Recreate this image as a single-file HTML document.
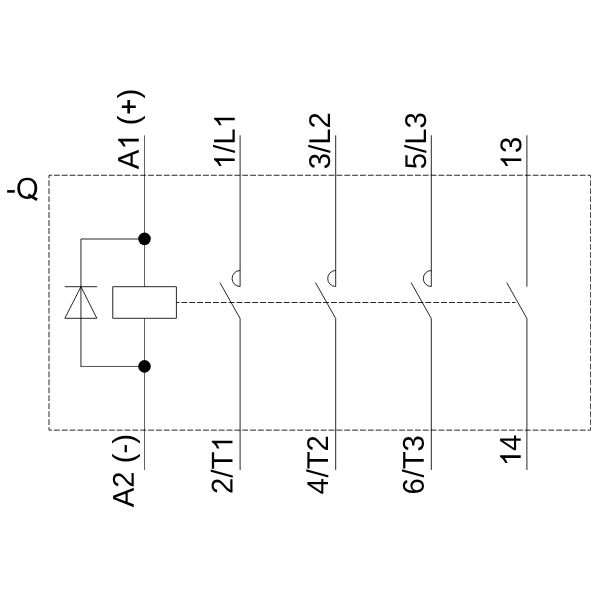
<!DOCTYPE html>
<html><head><meta charset="utf-8"><title>Contactor circuit diagram -Q</title><style>
html,body{margin:0;padding:0;background:#fff;}
svg{display:block;will-change:transform;}
</style></head><body>
<svg width="600" height="600" viewBox="0 0 600 600">

<rect width="600" height="600" fill="#fff"/>
<g stroke="#000" stroke-width="0.85" fill="none">
<line x1="49" y1="175.25" x2="590.5" y2="175.25" stroke-dasharray="5.886 1.962" stroke-dashoffset="2.943"/>
<line x1="49" y1="430.15" x2="590.5" y2="430.15" stroke-dasharray="5.886 1.962" stroke-dashoffset="2.943"/>
<line x1="49" y1="175.25" x2="49" y2="430.15" stroke-dasharray="5.974 1.991" stroke-dashoffset="2.987"/>
<line x1="590.5" y1="175.25" x2="590.5" y2="430.15" stroke-dasharray="5.974 1.991" stroke-dashoffset="2.987" stroke-opacity="0.78"/>
<line x1="176.5" y1="302.5" x2="515.5" y2="302.5" stroke-dasharray="5.9 1.97" stroke-dashoffset="2.95"/>
<line x1="144.5" y1="135.3" x2="144.5" y2="286.7" stroke-opacity="0.72"/>
<line x1="144.5" y1="318.3" x2="144.5" y2="470.0" stroke-opacity="0.72"/>
<rect x="112.75" y="286.7" width="63.65" height="31.6" stroke-linejoin="round"/>
<polyline points="144.5,239 80.95,239 80.95,366.45"/>
<line x1="80.95" y1="366.45" x2="144.5" y2="366.45" stroke-opacity="0.8" stroke-linecap="square"/>
<line x1="64.8" y1="286.7" x2="97" y2="286.7"/>
<polygon points="80.95,286.7 64.85,318.3 96.85,318.3"/>
<line x1="240.1" y1="135.3" x2="240.1" y2="286.5"/>
<path d="M240.1,270.5 A8,8 0 0 0 240.1,286.5"/>
<line x1="240.1" y1="318.5" x2="219.90" y2="282.6"/>
<line x1="240.1" y1="318.5" x2="240.1" y2="470.0"/>
<line x1="335.7" y1="135.3" x2="335.7" y2="286.5"/>
<path d="M335.7,270.5 A8,8 0 0 0 335.7,286.5"/>
<line x1="335.7" y1="318.5" x2="315.50" y2="282.6"/>
<line x1="335.7" y1="318.5" x2="335.7" y2="470.0"/>
<line x1="431.3" y1="135.3" x2="431.3" y2="286.5"/>
<path d="M431.3,270.5 A8,8 0 0 0 431.3,286.5"/>
<line x1="431.3" y1="318.5" x2="411.10" y2="282.6"/>
<line x1="431.3" y1="318.5" x2="431.3" y2="470.0"/>
<line x1="526.9" y1="135.3" x2="526.9" y2="286.7"/>
<line x1="526.9" y1="318.5" x2="506.70" y2="282.6"/>
<line x1="526.9" y1="318.5" x2="526.9" y2="470.0"/>
</g>
<g fill="#000"><circle cx="144.5" cy="238.85" r="6.3"/><circle cx="144.5" cy="366.35" r="6.3"/></g>
<g font-family="Liberation Sans, sans-serif" font-size="29.3" fill="#000" style="font-kerning:none;text-rendering:geometricPrecision">
<g transform="translate(138.75,169.3) rotate(-89.97) scale(1,1.025)"><text x="0" y="0" text-anchor="start">A<tspan visibility="hidden">1</tspan> (<tspan visibility="hidden">+</tspan>)</text><path transform="translate(19.543,0) scale(0.014307,-0.013694)" d="M763,0 L583,0 L583,1147 Q518,1085 412,1023 Q306,961 223,930 L223,1104 Q374,1175 487,1276 Q600,1377 647,1472 L763,1472 Z" vector-effect="non-scaling-stroke"/><path transform="translate(53.736,0) scale(0.014307,-0.013750)" d="M531,213 L531,620 L143,620 L143,810 L531,810 L531,1203 L697,1203 L697,810 L1085,810 L1085,620 L697,620 L697,213 Z" vector-effect="non-scaling-stroke"/></g>
<g transform="translate(234.7,169.3) rotate(-89.97) scale(1,1.025)"><text x="0" y="0" text-anchor="start"><tspan visibility="hidden">1</tspan>/L<tspan visibility="hidden">1</tspan></text><path transform="translate(0.000,0) scale(0.014307,-0.013694)" d="M763,0 L583,0 L583,1147 Q518,1085 412,1023 Q306,961 223,930 L223,1104 Q374,1175 487,1276 Q600,1377 647,1472 L763,1472 Z" vector-effect="non-scaling-stroke"/><path transform="translate(40.731,0) scale(0.014307,-0.013694)" d="M763,0 L583,0 L583,1147 Q518,1085 412,1023 Q306,961 223,930 L223,1104 Q374,1175 487,1276 Q600,1377 647,1472 L763,1472 Z" vector-effect="non-scaling-stroke"/></g>
<g transform="translate(330.1,169.3) rotate(-89.97) scale(1,1.025)"><text x="0" y="0" text-anchor="start">3/L2</text></g>
<g transform="translate(426.1,169.3) rotate(-89.97) scale(1,1.025)"><text x="0" y="0" text-anchor="start">5/L3</text></g>
<g transform="translate(521.25,169.3) rotate(-89.97) scale(1,1.025)"><text x="0" y="0" text-anchor="start"><tspan visibility="hidden">1</tspan>3</text><path transform="translate(0.000,0) scale(0.014307,-0.013694)" d="M763,0 L583,0 L583,1147 Q518,1085 412,1023 Q306,961 223,930 L223,1104 Q374,1175 487,1276 Q600,1377 647,1472 L763,1472 Z" vector-effect="non-scaling-stroke"/></g>
<g transform="translate(133.75,434.05) rotate(-89.97) scale(1,1.025)"><text x="0" y="0" text-anchor="end">A2 (-)</text></g>
<g transform="translate(232.5,435.3) rotate(-89.97) scale(1,1.025)"><text x="0" y="0" text-anchor="end">2/T<tspan visibility="hidden">1</tspan></text><path transform="translate(-16.295,0) scale(0.014307,-0.013694)" d="M763,0 L583,0 L583,1147 Q518,1085 412,1023 Q306,961 223,930 L223,1104 Q374,1175 487,1276 Q600,1377 647,1472 L763,1472 Z" vector-effect="non-scaling-stroke"/></g>
<g transform="translate(328.0,435.1) rotate(-89.97) scale(1,1.025)"><text x="0" y="0" text-anchor="end">4<tspan dx="0.7">/</tspan>T2</text></g>
<g transform="translate(423.85,435.1) rotate(-89.97) scale(1,1.025)"><text x="0" y="0" text-anchor="end">6<tspan dx="0.7">/</tspan>T3</text></g>
<g transform="translate(520.75,434.8) rotate(-89.97) scale(1,1.025)"><text x="0" y="0" text-anchor="end"><tspan visibility="hidden">1</tspan>4</text><path transform="translate(-31.491,0) scale(0.014307,-0.013694)" d="M763,0 L583,0 L583,1147 Q518,1085 412,1023 Q306,961 223,930 L223,1104 Q374,1175 487,1276 Q600,1377 647,1472 L763,1472 Z" vector-effect="non-scaling-stroke"/></g>
<g transform="translate(6.12,198.6) scale(1,1.025)"><text x="0" y="0"><tspan visibility="hidden">-Q</tspan></text><path transform="translate(9.757,0) scale(0.014307,-0.014307)" d="M1495 711Q1495 490 1410.5 324.0Q1326 158 1168.0 69.0Q1010 -20 795 -20Q578 -20 420.5 68.0Q263 156 180.0 322.5Q97 489 97 711Q97 1049 282.0 1239.5Q467 1430 797 1430Q1012 1430 1170.0 1344.5Q1328 1259 1411.5 1096.0Q1495 933 1495 711ZM1300 711Q1300 974 1168.5 1124.0Q1037 1274 797 1274Q555 1274 423.0 1126.0Q291 978 291 711Q291 446 424.5 290.5Q558 135 795 135Q1039 135 1169.5 285.5Q1300 436 1300 711Z" vector-effect="non-scaling-stroke"/></g>
<rect x="7.15" y="190.1" width="7.7" height="2.6"/>
<line x1="28.3" y1="194.6" x2="37.1" y2="199.75" stroke="#000" stroke-width="2.8"/>
</g>
</svg>
</body></html>
